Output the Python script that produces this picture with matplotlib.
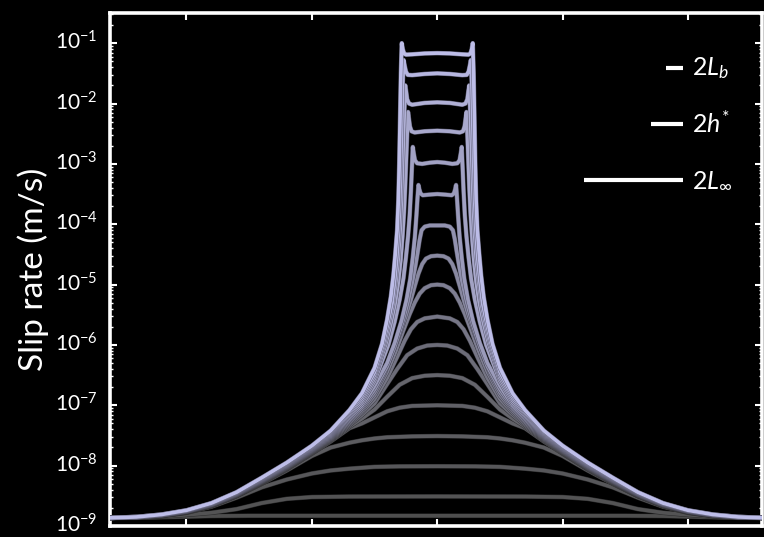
import numpy as np
import matplotlib
matplotlib.use("Agg")
import matplotlib.pyplot as plt
from matplotlib import patheffects as pe
from matplotlib import transforms as mtransforms
from matplotlib.colors import LinearSegmentedColormap
from matplotlib.ticker import LogLocator, NullFormatter, FixedLocator

plt.rcParams['font.family'] = ['Lato', 'DejaVu Sans']
plt.rcParams['mathtext.fontset'] = 'custom'
plt.rcParams['mathtext.rm'] = 'Lato'
plt.rcParams['mathtext.it'] = 'Lato:italic'
plt.rcParams['mathtext.bf'] = 'Lato:bold'

# ---------------- data (left half of each symmetric profile) ----------------
# pairs of (position along fault, log10 slip rate in m/s)
rate_01 = [(-2.61,-8.865),(-2.4,-8.864),(-2.2,-8.855),(-2.0,-8.845),(-1.8,-8.835),(-1.5,-8.83),(0.0,-8.83)]
rate_02 = [(-2.61,-8.865),(-2.4,-8.862),(-2.2,-8.845),(-2.0,-8.815),(-1.8,-8.78),(-1.6,-8.72),(-1.4,-8.62),
           (-1.2,-8.55),(-1.0,-8.52),(-0.7,-8.512),(0.0,-8.51)]
rate_03 = [(-2.61,-8.865),(-2.4,-8.86),(-2.2,-8.835),(-2.0,-8.78),(-1.8,-8.68),(-1.6,-8.53),(-1.4,-8.36),
           (-1.2,-8.23),(-1.0,-8.13),(-0.85,-8.08),(-0.7,-8.05),(-0.5,-8.02),(-0.3,-8.012),(0.0,-8.01)]
rate_04 = [(-2.61,-8.865),(-2.4,-8.859),(-2.2,-8.832),(-2.0,-8.772),(-1.8,-8.668),(-1.6,-8.505),(-1.4,-8.30),
           (-1.2,-8.08),(-1.0,-7.84),(-0.85,-7.70),(-0.7,-7.62),(-0.6,-7.58),(-0.5,-7.55),(-0.4,-7.53),
           (-0.2,-7.515),(0.0,-7.51)]
rate_05 = [(-2.61,-8.865),(-2.4,-8.858),(-2.2,-8.83),(-2.0,-8.77),(-1.8,-8.665),(-1.6,-8.50),(-1.4,-8.29),
           (-1.2,-8.06),(-1.0,-7.80),(-0.85,-7.60),(-0.7,-7.38),(-0.6,-7.30),(-0.5,-7.20),(-0.4,-7.10),
           (-0.3,-7.04),(-0.2,-7.01),(0.0,-7.0)]
rate_06 = [(-2.61,-8.865),(-2.4,-8.857),(-2.2,-8.828),(-2.0,-8.768),(-1.8,-8.661),(-1.6,-8.495),(-1.4,-8.283),
           (-1.2,-8.051),(-1.0,-7.789),(-0.85,-7.585),(-0.7,-7.355),(-0.6,-7.22),(-0.5,-7.07),(-0.4,-6.86),
           (-0.3,-6.66),(-0.2,-6.55),(-0.1,-6.51),(0.0,-6.5)]
rate_07 = [(-2.61,-8.865),(-2.4,-8.857),(-2.2,-8.827),(-2.0,-8.765),(-1.8,-8.658),(-1.6,-8.49),(-1.4,-8.275),
           (-1.2,-8.042),(-1.0,-7.778),(-0.85,-7.57),(-0.7,-7.33),(-0.6,-7.16),(-0.5,-6.97),(-0.4,-6.65),
           (-0.32,-6.4),(-0.24,-6.17),(-0.16,-6.06),(-0.08,-6.01),(0.0,-6.0)]
rate_08 = [(-2.61,-8.865),(-2.4,-8.856),(-2.2,-8.825),(-2.0,-8.763),(-1.8,-8.654),(-1.6,-8.485),(-1.4,-8.268),
           (-1.2,-8.033),(-1.0,-7.768),(-0.85,-7.555),(-0.7,-7.305),(-0.6,-7.12),(-0.5,-6.9),(-0.4,-6.55),
           (-0.32,-6.2),(-0.26,-5.93),(-0.21,-5.74),(-0.16,-5.62),(-0.1,-5.56),(0.0,-5.53)]
rate_09 = [(-2.61,-8.865),(-2.4,-8.855),(-2.2,-8.823),(-2.0,-8.76),(-1.8,-8.65),(-1.6,-8.48),(-1.4,-8.26),
           (-1.2,-8.023),(-1.0,-7.757),(-0.85,-7.54),(-0.7,-7.28),(-0.6,-7.09),(-0.5,-6.84),(-0.4,-6.45),
           (-0.33,-6.1),(-0.27,-5.76),(-0.22,-5.49),(-0.18,-5.3),(-0.14,-5.15),(-0.1,-5.06),(-0.05,-5.01),(0.0,-5.0)]
rate_10 = [(-2.61,-8.865),(-2.4,-8.855),(-2.2,-8.822),(-2.0,-8.758),(-1.8,-8.646),(-1.6,-8.475),(-1.4,-8.253),
           (-1.2,-8.014),(-1.0,-7.746),(-0.85,-7.525),(-0.7,-7.255),(-0.6,-7.06),(-0.5,-6.79),(-0.42,-6.47),
           (-0.36,-6.15),(-0.3,-5.82),(-0.25,-5.52),(-0.21,-5.25),(-0.18,-5.03),(-0.15,-4.82),(-0.12,-4.66),
           (-0.09,-4.57),(-0.05,-4.53),(0.0,-4.52)]
rate_11 = [(-2.61,-8.865),(-2.4,-8.854),(-2.2,-8.82),(-2.0,-8.755),(-1.8,-8.643),(-1.6,-8.47),(-1.4,-8.245),
           (-1.2,-8.005),(-1.0,-7.735),(-0.85,-7.51),(-0.7,-7.23),(-0.6,-7.03),(-0.5,-6.74),(-0.4,-6.36),
           (-0.34,-6.04),(-0.28,-5.65),(-0.235,-5.3),(-0.2,-4.97),(-0.175,-4.7),(-0.155,-4.45),(-0.14,-4.25),
           (-0.125,-4.1),(-0.1,-4.04),(-0.06,-4.02),(0.0,-4.02)]
rate_12 = [(-2.61,-8.865),(-2.4,-8.853),(-2.2,-8.818),(-2.0,-8.753),(-1.8,-8.639),(-1.6,-8.465),(-1.4,-8.238),
           (-1.2,-7.996),(-1.0,-7.724),(-0.85,-7.495),(-0.7,-7.205),(-0.6,-7.0),(-0.5,-6.68),(-0.4,-6.3),
           (-0.34,-5.97),(-0.285,-5.6),(-0.245,-5.25),(-0.215,-4.9),(-0.195,-4.55),(-0.178,-4.2),(-0.166,-3.85),
           (-0.157,-3.55),(-0.15,-3.35),(-0.143,-3.42),(-0.133,-3.49),(-0.115,-3.52),(-0.07,-3.51),(0.0,-3.50)]
rate_13 = [(-2.61,-8.865),(-2.4,-8.853),(-2.2,-8.817),(-2.0,-8.75),(-1.8,-8.635),(-1.6,-8.46),(-1.4,-8.23),
           (-1.2,-7.987),(-1.0,-7.713),(-0.85,-7.48),(-0.7,-7.18),(-0.6,-6.96),(-0.5,-6.6),(-0.39,-6.0),
           (-0.34,-5.62),(-0.3,-5.25),(-0.27,-4.9),(-0.25,-4.55),(-0.233,-4.2),(-0.22,-3.85),(-0.21,-3.45),
           (-0.202,-3.05),(-0.195,-2.72),(-0.188,-2.82),(-0.178,-2.94),(-0.16,-2.99),(-0.12,-3.0),(-0.06,-2.98),
           (0.0,-2.97)]
rate_14 = [(-2.61,-8.865),(-2.4,-8.852),(-2.2,-8.815),(-2.0,-8.748),(-1.8,-8.631),(-1.6,-8.455),(-1.4,-8.223),
           (-1.2,-7.978),(-1.0,-7.703),(-0.85,-7.465),(-0.7,-7.155),(-0.6,-6.92),(-0.5,-6.55),(-0.41,-5.98),
           (-0.37,-5.65),(-0.335,-5.3),(-0.31,-4.95),(-0.292,-4.6),(-0.277,-4.2),(-0.265,-3.8),(-0.256,-3.4),
           (-0.248,-2.95),(-0.24,-2.5),(-0.233,-2.14),(-0.226,-2.25),(-0.218,-2.38),(-0.205,-2.46),(-0.18,-2.48),
           (-0.1,-2.46),(0.0,-2.45)]
rate_15 = [(-2.61,-8.865),(-2.4,-8.851),(-2.2,-8.813),(-2.0,-8.745),(-1.8,-8.628),(-1.6,-8.45),(-1.4,-8.215),
           (-1.2,-7.968),(-1.0,-7.692),(-0.85,-7.45),(-0.7,-7.13),(-0.6,-6.88),(-0.5,-6.5),(-0.42,-5.97),
           (-0.385,-5.65),(-0.355,-5.35),(-0.33,-4.95),(-0.31,-4.55),(-0.296,-4.1),(-0.286,-3.6),(-0.278,-3.1),
           (-0.27,-2.6),(-0.262,-2.1),(-0.255,-1.70),(-0.248,-1.8),(-0.24,-1.93),(-0.225,-2.0),(-0.2,-2.02),
           (-0.1,-1.99),(0.0,-1.98)]
rate_16 = [(-2.61,-8.865),(-2.4,-8.85),(-2.2,-8.812),(-2.0,-8.743),(-1.8,-8.624),(-1.6,-8.445),(-1.4,-8.208),
           (-1.2,-7.959),(-1.0,-7.681),(-0.85,-7.435),(-0.7,-7.105),(-0.6,-6.84),(-0.5,-6.45),(-0.43,-5.98),
           (-0.39,-5.6),(-0.36,-5.3),(-0.34,-4.95),(-0.322,-4.55),(-0.308,-4.1),(-0.298,-3.6),(-0.291,-3.0),
           (-0.284,-2.4),(-0.276,-1.7),(-0.268,-1.28),(-0.26,-1.37),(-0.25,-1.47),(-0.235,-1.525),(-0.2,-1.53),
           (-0.1,-1.51),(0.0,-1.50)]
rate_17 = [(-2.61,-8.865),(-2.4,-8.85),(-2.2,-8.81),(-2.0,-8.74),(-1.8,-8.62),(-1.6,-8.44),(-1.4,-8.20),
           (-1.2,-7.95),(-1.0,-7.67),(-0.85,-7.42),(-0.7,-7.08),(-0.6,-6.80),(-0.5,-6.38),(-0.44,-5.98),
           (-0.40,-5.58),(-0.37,-5.2),(-0.35,-4.85),(-0.335,-4.5),(-0.32,-4.1),(-0.31,-3.6),(-0.303,-3.0),
           (-0.297,-2.3),(-0.29,-1.5),(-0.283,-1.0),(-0.275,-1.1),(-0.265,-1.17),(-0.25,-1.19),(-0.2,-1.185),
           (-0.1,-1.17),(0.0,-1.165)]

profiles = [rate_01, rate_02, rate_03, rate_04, rate_05, rate_06, rate_07, rate_08, rate_09,
            rate_10, rate_11, rate_12, rate_13, rate_14, rate_15, rate_16, rate_17]

# scale bars (lengths along the fault) and their labels
scale_labels = [r'$2L_b$', r'$2h^{*}$', r'$2L_{\infty}$']
scale_lengths = [0.13, 0.25, 0.79]
scale_levels = [3.86e-2, 4.56e-3, 5.4e-4]

y_tick_values = [1e-9, 1e-8, 1e-7, 1e-6, 1e-5, 1e-4, 1e-3, 1e-2, 1e-1]
x_tick_values = [-2, -1, 0, 1, 2]

# ---------------- figure ----------------
fig = plt.figure(figsize=(7.64, 5.37), dpi=100, facecolor='black')
ax = fig.add_axes([110/764, 11/537, 652/764, 513/537])
ax.set_facecolor('black')

cmap = LinearSegmentedColormap.from_list('gl', ['#4e4e4e', '#66666e', '#9898b8', '#bdbde8'])
n = len(profiles)
for i, prof in enumerate(profiles):
    u = np.array([p[0] for p in prof])
    lv = np.array([p[1] for p in prof])
    uf = np.concatenate([u, -u[::-1][1:]])
    lvf = np.concatenate([lv, lv[::-1][1:]])
    col = cmap(i / (n - 1))
    dark = tuple(0.5 * c for c in col[:3])
    ax.plot(uf, 10.0 ** lvf, color=col, lw=2.6, solid_capstyle='round', solid_joinstyle='round',
            path_effects=[pe.Stroke(linewidth=3.3, foreground=dark), pe.Normal()], zorder=2 + i)

ax.set_yscale('log')
ax.set_xlim(-2.61, 2.59)
ax.set_ylim(1e-9, 10 ** -0.5)

# scale bars
x_end = 1.958
for lab, ln, lev in zip(scale_labels, scale_lengths, scale_levels):
    ax.plot([x_end - ln, x_end], [lev, lev], color='white', lw=3.0, solid_capstyle='butt', zorder=30)
    ax.text(x_end + 0.075, lev, lab, color='white', fontsize=18, va='center', ha='left', zorder=30)

ax.yaxis.set_major_locator(FixedLocator(y_tick_values))
ax.yaxis.set_minor_locator(LogLocator(base=10, subs=np.arange(2, 10) * 1.0, numticks=20))
ax.yaxis.set_minor_formatter(NullFormatter())
ax.xaxis.set_major_locator(FixedLocator(x_tick_values))
ax.set_xticklabels([])

ax.tick_params(axis='both', which='major', direction='in', length=5, width=1.5, colors='white',
               labelsize=15, pad=9, top=True, right=True)
ax.tick_params(axis='y', which='minor', direction='in', length=2.5, width=1.0, colors='white',
               right=True)
for sp in ax.spines.values():
    sp.set_color('white')
    sp.set_linewidth(2.6)

ax.set_ylabel('Slip rate (m/s)', color='white', fontsize=24, labelpad=4)

# nudge the y tick labels up slightly so the lowest one stays inside the canvas
shift = mtransforms.ScaledTranslation(0, 3 / 100, fig.dpi_scale_trans)
for lbl in ax.get_yticklabels():
    lbl.set_transform(lbl.get_transform() + shift)

fig.savefig('out.png', dpi=100, facecolor='black')
